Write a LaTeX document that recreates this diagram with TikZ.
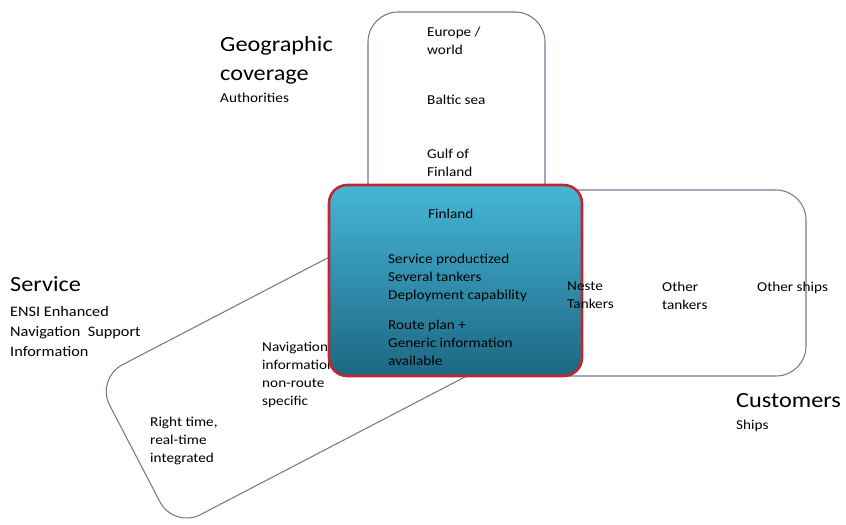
\documentclass[tikz,border=0pt]{standalone}
\usepackage{fontspec}
\setmainfont{Carlito}[FakeStretch=1.12]
\definecolor{zoneline}{HTML}{6A7C96}
\definecolor{coretop}{HTML}{46B6D6}
\definecolor{corebot}{HTML}{1C6783}
\definecolor{coreedge}{HTML}{BE2830}

\begin{document}
\begin{tikzpicture}[x=0.03cm,y=-0.03cm,
		zone/.style={draw=zoneline, line width=0.9pt, rounded corners=0.9cm, inner sep=0pt},
		core/.style={draw=coreedge, line width=2.2pt, rounded corners=0.55cm, top color=coretop, bottom color=corebot, inner sep=0pt},
		txt/.style={font=\fontsize{11.6}{15.3}\selectfont, align=left, anchor=north west, inner sep=0pt},
		head/.style={font=\fontsize{18.5}{24.6}\selectfont, align=left, anchor=north west, inner sep=0pt}]
		\useasboundingbox (0,0) rectangle (846,524);
		% the three zones
		\node[zone, minimum width=12cm, minimum height=5.07cm, rotate=27.5] (service) at (312.2,361.2) {};
		\node[zone, minimum width=5.31cm, minimum height=8.64cm] (geo) at (456.5,156) {};
		\node[zone, minimum width=12.18cm, minimum height=5.58cm] (cust) at (603,283) {};
		% headings
		\node[head] (geohead) at (220,36) {Geographic\\coverage};
		\node[txt] (geosub) at (220,93) {Authorities};
		\node[head] (servhead) at (10,276) {Service};
		\node[txt, font=\fontsize{12.4}{17}\selectfont] (servsub) at (10,306) {ENSI Enhanced\\Navigation~~Support\\Information};
		\node[head] (custhead) at (736,393) {Customers};
		\node[txt] (custsub) at (736,420) {Ships};
		% levels
		\foreach \y/\t [count=\i] in {27/{Europe /\\world}, 95/{Baltic sea}, 149/{Gulf of\\Finland}}{
			\node[txt] (geo\i) at (427,\y) {\t};
		}
		\node[txt] (nav1) at (262,342) {Navigation\\information\\non-route\\specific};
		\node[txt] (nav2) at (150,417) {Right time,\\real-time\\integrated};
		% core
		\node[core, minimum width=7.59cm, minimum height=5.73cm] (core) at (455.5,280.5) {};
		\node[txt] (core1) at (428,209) {Finland};
		\node[txt] (core2) at (388,254) {Service productized\\Several tankers\\Deployment capability};
		\node[txt] (core3) at (388,320) {Route plan +\\Generic information\\available};
		\foreach \x/\t [count=\i] in {567/{Neste\\Tankers}, 662/{Other\\tankers}, 757/{Other ships}}{
			\node[txt] (ship\i) at (\x,282) {\t};
		}
	\end{tikzpicture}
\end{document}
